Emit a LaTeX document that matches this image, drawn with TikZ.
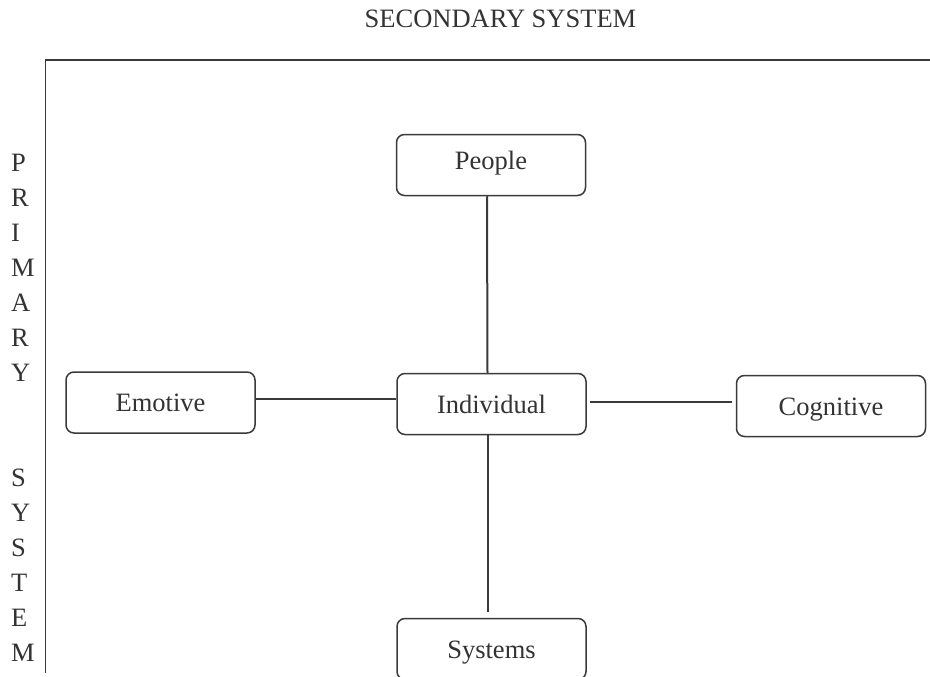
\documentclass[tikz,border=0pt]{standalone}
\usepackage{fontspec}
\setmainfont{Liberation Serif}
\definecolor{ink}{HTML}{333333}
\definecolor{linec}{HTML}{3A3A3A}
\begin{document}
\begin{tikzpicture}[x=1pt,y=-1pt,
  every node/.style={text=ink,font=\fontsize{26.5}{32}\selectfont},
  box/.style={draw=linec,line width=1.5pt,rounded corners=8pt,minimum width=189pt,minimum height=61pt,
    inner sep=0pt,text height=18pt,text depth=0pt,align=center},
  conn/.style={draw=linec,line width=2pt},
  axisline/.style={draw=linec,line width=1.8pt},
  letter/.style={anchor=base west,inner sep=0pt}]
\useasboundingbox (0,0) rectangle (930,677);
% title
\node[anchor=base,inner sep=0pt] (title) at (500.5,28) {SECONDARY SYSTEM};
% axes
\coordinate (corner) at (45.5,60);
\coordinate (axisright) at (931,60);
\coordinate (axisbottom) at (45.5,673);
\draw[axisline] (axisbottom) -- (corner) -- (axisright);
% vertical letters
\foreach \ch [count=\i from 0] in {P,R,I,M,A,R,Y}
  \node[letter] (p\i) at (11,171+35*\i) {\ch};
\foreach \ch [count=\i from 0] in {S,Y,S,T,E,M}
  \node[letter] (s\i) at (11,486+35*\i) {\ch};
% boxes
\node[box,text depth=9pt] (people) at (491,165) {People};
\node[box] (indiv) at (491.5,404) {Individual};
\node[box] (emotive) at (160.5,402.5) {Emotive};
\node[box] (cognitive) at (831,406) {Cognitive};
\node[box] (systems) at (491.5,649) {Systems};
% connectors
\draw[conn] ([xshift=-4pt]people.south) -- ([xshift=-4pt]indiv.north);
\draw[conn,shorten >=6pt] ([xshift=-4pt]indiv.south) -- ([xshift=-4pt]systems.north);
\draw[conn] ([yshift=3.5pt]emotive.east) -- ([yshift=3.5pt]emotive.east -| indiv.west);
\draw[conn,shorten <=3pt,shorten >=4pt] ([yshift=2pt]indiv.east) -- ([yshift=2pt]indiv.east -| cognitive.west);
\end{tikzpicture}
\end{document}
